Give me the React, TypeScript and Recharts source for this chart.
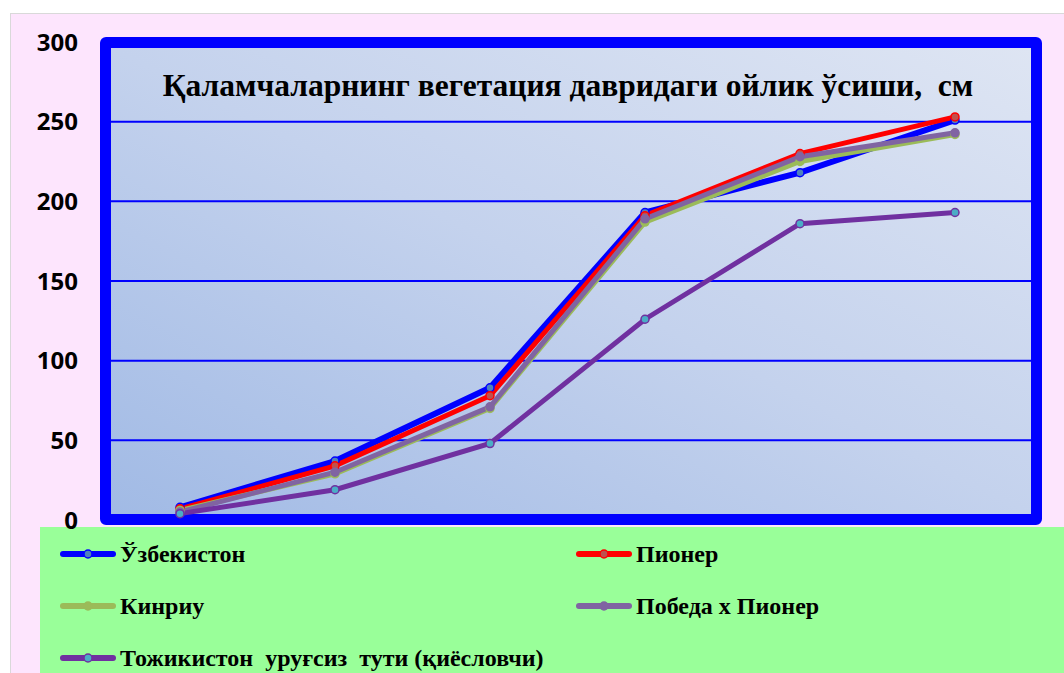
import React from "react"
import { CartesianGrid, Legend, Line, LineChart, XAxis, YAxis } from "recharts"

const months = ["V", "VI", "VII", "VIII", "IX", "X"]
const uzbekiston = [8, 37, 83, 193, 218, 251]
const pioner = [7, 34, 78, 191, 230, 253]
const kinriu = [6, 29, 70, 187, 225, 242]
const pobeda = [5, 30, 71, 189, 228, 243]
const tojikiston = [4, 19, 48, 126, 186, 193]
const yTicks = [0, 50, 100, 150, 200, 250, 300]

const chartTitle = "Қаламчаларнинг вегетация давридаги ойлик ўсиши,  см"

const series = [
  { key: "uz", name: "Ўзбекистон", values: uzbekiston, color: "#0000FF", width: 6, dotFill: "#4F81BD", dotStroke: "#0000FF" },
  { key: "pi", name: "Пионер", values: pioner, color: "#FF0000", width: 5, dotFill: "#C0504D", dotStroke: "#FF0000" },
  { key: "ki", name: "Кинриу", values: kinriu, color: "#9BBB59", width: 5, dotFill: "#9BBB59", dotStroke: "#9BBB59" },
  { key: "po", name: "Победа х Пионер", values: pobeda, color: "#8064A2", width: 5, dotFill: "#8064A2", dotStroke: "#8064A2" },
  { key: "tj", name: "Тожикистон  уруғсиз  тути (қиёсловчи)", values: tojikiston, color: "#7030A0", width: 5, dotFill: "#4BACC6", dotStroke: "#7030A0" },
]

const data = months.map((m, i) => {
  const row: Record<string, string | number> = { month: m }
  series.forEach((s) => {
    row[s.key] = s.values[i]
  })
  return row
})

const serif = "'Liberation Serif', 'Times New Roman', serif"

const LegendBox = () => {
  const pos = [
    { x: 60, y: 554 },
    { x: 576, y: 554 },
    { x: 60, y: 606 },
    { x: 576, y: 606 },
    { x: 60, y: 658 },
  ]
  return (
    <div style={{ position: "absolute", left: 0, top: 0, width: 1064, height: 673, pointerEvents: "none" }}>
      {series.map((s, i) => (
        <div key={s.key} style={{ position: "absolute", left: pos[i].x, top: pos[i].y - 15, height: 30, display: "flex", alignItems: "center" }}>
          <svg width={56} height={14} style={{ marginRight: 4 }}>
            <line x1={3} y1={7} x2={53} y2={7} stroke={s.color} strokeWidth={6} strokeLinecap="round" />
            <circle cx={28} cy={7} r={4} fill={s.dotFill} stroke={s.dotStroke} strokeWidth={1.5} />
          </svg>
          <span style={{ fontFamily: serif, fontWeight: 700, fontSize: 24, color: "#000", whiteSpace: "pre" }}>{s.name}</span>
        </div>
      ))}
    </div>
  )
}

export default function App() {
  return (
    <div style={{ position: "absolute", left: 0, top: 0, width: 1064, height: 673, background: "#fff", overflow: "hidden" }}>
      {/* pink frame */}
      <div style={{ position: "absolute", left: 10, top: 13, width: 1060, height: 670, background: "#FDE5FD", border: "1px solid #D9D9D9" }} />
      {/* plot area */}
      <div
        style={{
          position: "absolute",
          left: 100,
          top: 37,
          width: 942 - 22,
          height: 488 - 22,
          border: "11px solid #0000FF",
          borderRadius: 6,
          background: "linear-gradient(to top right, #A1BAE5 0%, #C4D2ED 50%, #DEE5F3 100%)",
        }}
      />
      {/* legend background */}
      <div style={{ position: "absolute", left: 40, top: 527, width: 1030, height: 150, background: "#99FF99" }} />
      <div style={{ position: "absolute", left: 0, top: 0 }}>
        <LineChart width={1064} height={673} data={data} margin={{ top: 42, right: 31, bottom: 153, left: 0 }}>
          <CartesianGrid horizontal vertical={false} stroke="#0000FF" strokeWidth={2} />
          <XAxis dataKey="month" hide padding={{ left: 78, right: 78 }} />
          <YAxis
            domain={[0, 300]}
            ticks={yTicks}
            width={102}
            axisLine={false}
            tickLine={false}
            tickSize={0}
            tickMargin={24}
            tick={{ fill: "#000", fontSize: 24, fontWeight: 700, fontFamily: "'Open Sans', sans-serif" }}
          />
          <Legend content={() => null} />
          {series.map((s) => (
            <Line
              key={s.key}
              dataKey={s.key}
              name={s.name}
              type="linear"
              stroke={s.color}
              strokeWidth={s.width}
              dot={{ r: 4, fill: s.dotFill, stroke: s.dotStroke, strokeWidth: 1.5 }}
              isAnimationActive={false}
            />
          ))}
          <text
            x={568}
            y={96}
            textAnchor="middle"
            style={{ fontFamily: serif, fontWeight: 700, fontSize: 31.5, fill: "#000", whiteSpace: "pre" }}
          >
            {chartTitle}
          </text>
        </LineChart>
      </div>
      <LegendBox />
    </div>
  )
}
